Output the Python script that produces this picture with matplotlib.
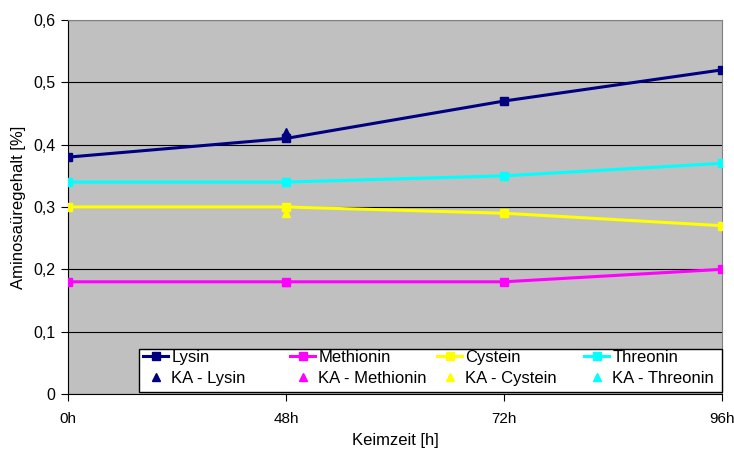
import matplotlib
matplotlib.use("Agg")
import matplotlib.pyplot as plt
from matplotlib.patches import Rectangle
from matplotlib.ticker import FuncFormatter

plt.rcParams['font.family'] = ['Liberation Sans', 'DejaVu Sans']

# data
zeiten = ['0h', '48h', '72h', '96h']
lysin = [0.38, 0.41, 0.47, 0.52]
methionin = [0.18, 0.18, 0.18, 0.20]
cystein = [0.30, 0.30, 0.29, 0.27]
threonin = [0.34, 0.34, 0.35, 0.37]

# KA reference values (only at 48h)
ka_pos = [1]
ka_lysin = [0.42]
ka_methionin = [0.18]
ka_cystein = [0.29]
ka_threonin = [0.34]

farben = {'Lysin': '#000080', 'Methionin': '#FF00FF',
          'Cystein': '#FFFF00', 'Threonin': '#00FFFF'}

W, H = 734, 454
fig = plt.figure(figsize=(W / 100, H / 100), dpi=100)
ax = fig.add_axes([68 / W, 60 / H, 654 / W, 374 / H])
ax.set_facecolor('#C0C0C0')

x = list(range(len(zeiten)))
serien = [('Lysin', lysin, ka_lysin), ('Methionin', methionin, ka_methionin),
          ('Cystein', cystein, ka_cystein), ('Threonin', threonin, ka_threonin)]
paare = []
for name, werte, ka in serien:
    c = farben[name]
    ka_h, = ax.plot(ka_pos, ka, linestyle='none', marker='^', markersize=6,
                    color=c, zorder=2, label='KA - ' + name)
    h, = ax.plot(x, werte, color=c, linewidth=2.2, marker='s', markersize=5.5,
                 zorder=3, label=name)
    paare.append((h, ka_h))

ax.set_xlim(0, 3)
ax.set_ylim(0, 0.6)
ax.set_xticks(x)
ax.set_xticklabels(zeiten)
ax.set_yticks([0, 0.1, 0.2, 0.3, 0.4, 0.5, 0.6])
ax.yaxis.set_major_formatter(FuncFormatter(lambda v, p: '0' if v == 0 else f'{v:.1f}'.replace('.', ',')))
ax.grid(axis='y', color='black', linewidth=0.8)
ax.set_axisbelow(True)
ax.tick_params(direction='out', length=5, width=0.8, labelsize=11.5)
ax.tick_params(axis='x', pad=8, labelsize=11)
ax.tick_params(axis='y', pad=4)
for s in ['left', 'bottom']:
    ax.spines[s].set_color('black')
for s in ['top', 'right']:
    ax.spines[s].set_color('#808080')

ax.set_xlabel('Keimzeit [h]', fontsize=12, labelpad=5)
ax.set_ylabel('Aminosaüregehalt [%]', fontsize=12, labelpad=5)

# legend: white box with four equally spaced columns
rahmen = Rectangle((139 / W, (H - 392) / H), 583 / W, 43 / H,
                   transform=fig.transFigure, facecolor='white',
                   edgecolor='black', linewidth=1.0, zorder=4)
fig.patches.append(rahmen)
for i, (h, ka_h) in enumerate(paare):
    x0 = (143 + i * 147) / W
    leg = fig.legend(handles=[h, ka_h], loc='upper left',
                     bbox_to_anchor=(x0, (H - 350) / H), fontsize=12,
                     frameon=False, borderpad=0, borderaxespad=0,
                     handlelength=1.5, handletextpad=0.2, labelspacing=0.35)
    leg.set_zorder(5)

fig.savefig('out.png', dpi=100)
